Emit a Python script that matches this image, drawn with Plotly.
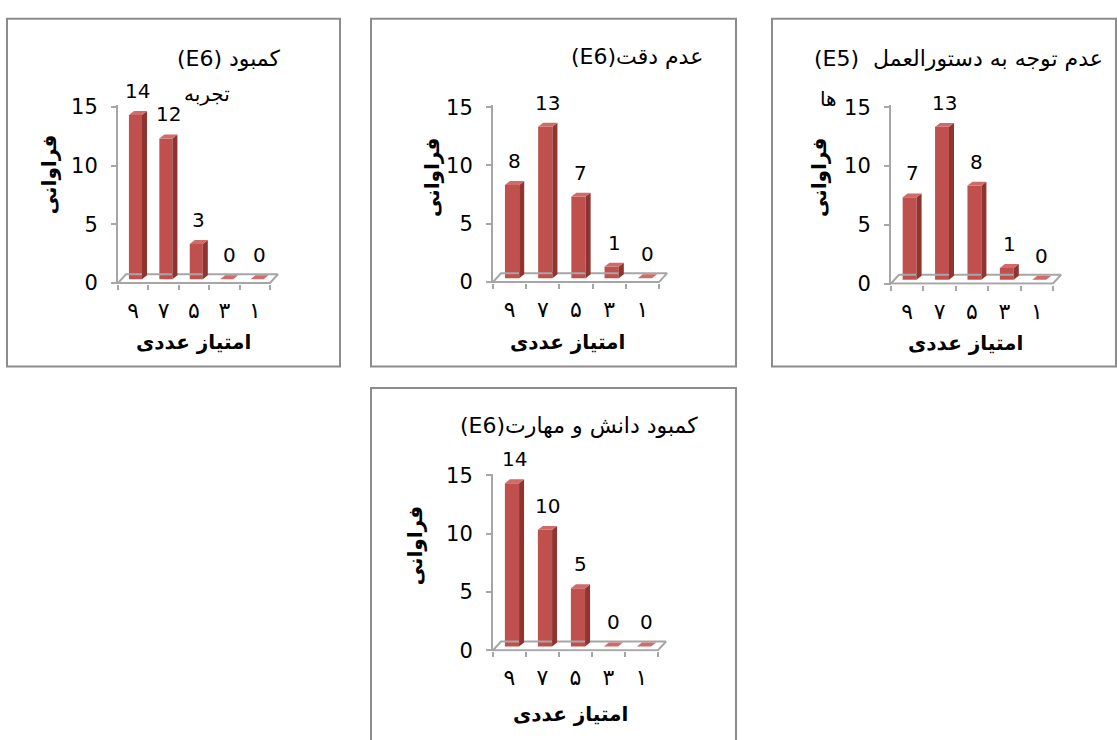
import plotly.graph_objects as go

W, H = 1117, 740

# ---------------- data ----------------
scores = ["۹", "۷", "۵", "۳", "۱"]          # numeric score categories (left to right)
vals_experience = [14, 12, 3, 0, 0]          # کمبود تجربه
vals_accuracy = [8, 13, 7, 1, 0]             # عدم دقت
vals_instructions = [7, 13, 8, 1, 0]         # عدم توجه به دستورالعمل ها
vals_knowledge = [14, 10, 5, 0, 0]           # کمبود دانش و مهارت
y_ticks = [0, 5, 10, 15]

title_experience = ["(E6) کمبود", "تجربه"]
title_accuracy = ["(E6)عدم دقت"]
title_instructions = ["(E5)  عدم توجه به دستورالعمل", "ها"]
title_knowledge = ["(E6)کمبود دانش و مهارت"]
y_title = "فراوانی"
x_title = "امتیاز عددی"

# ---------------- style ----------------
NFONT = "DejaVu Sans"
PFONT = "DejaVu Sans"
FRONT = "#C0504D"
SIDE = "#8E3431"
TOP = "#CF6B68"
GRAY = "#A6A6A6"
BORDER = "#8C8C8C"

W_BAR = 0.43     # front face width (category units)
OX = 0.075       # front face centre offset
B_UNITS = 0.33   # front face lifted above floor front edge

def px2x(px):
    return px / W

def px2y(py):
    return 1 - py / H

# panel layout in pixels
panels = [
    dict(vals=vals_experience, title=title_experience, ax0=118, cw=30.4, y0=281, upx=12.07,
         box=(7, 9, 340, 367),
         tpos=[(229, 50), (207, 86)], ypos=(49, 170), xpos=(193, 342)),
    dict(vals=vals_accuracy, title=title_accuracy, ax0=493, cw=33.2, y0=280, upx=12.0,
         box=(371, 9, 736, 367),
         tpos=[(637, 48)], ypos=(432, 173), xpos=(567, 342)),
    dict(vals=vals_instructions, title=title_instructions, ax0=891, cw=32.4, y0=281.5, upx=12.1,
         box=(772, 9, 1116, 367),
         tpos=[(958, 50), (828, 92)], ypos=(819, 173), xpos=(965, 343)),
    dict(vals=vals_knowledge, title=title_knowledge, ax0=493, cw=33.0, y0=659, upx=12.0,
         box=(371, 389, 736, 760),
         tpos=[(579, 428)], ypos=(415, 552), xpos=(570, 725)),
]

fig = go.Figure()
annotations = []
shapes = []
YMIN, YMAX = -0.1, 15.15
XMIN = -0.5

for k, p in enumerate(panels):
    sfx = "" if k == 0 else str(k + 1)
    xa, ya = "x" + sfx, "y" + sfx
    cw, upx = p["cw"], p["upx"]
    ddx = 5.0 / cw        # side depth
    ddy = 4.0 / upx       # top depth
    fdx = 8.0 / cw        # floor depth
    fdy = 9.0 / upx
    XMAX = 4.5 + fdx + 0.12
    n = len(p["vals"])

    # floor
    fig.add_trace(go.Scatter(
        x=[XMIN, n - 0.5, n - 0.5 + fdx, XMIN + fdx, XMIN],
        y=[0, 0, fdy, fdy, 0],
        mode="lines", line=dict(color=GRAY, width=2),
        xaxis=xa, yaxis=ya, showlegend=False, hoverinfo="skip"))

    # side and top faces
    sx, sy, tx, ty = [], [], [], []
    for i, v in enumerate(p["vals"]):
        x0 = i + OX - W_BAR / 2
        x1 = i + OX + W_BAR / 2
        top = B_UNITS + v
        sx += [x1, x1 + ddx, x1 + ddx, x1, x1, None]
        sy += [B_UNITS, B_UNITS + ddy, top + ddy, top, B_UNITS, None]
        tx += [x0, x1, x1 + ddx, x0 + ddx, x0, None]
        ty += [top, top, top + ddy, top + ddy, top, None]
    fig.add_trace(go.Scatter(x=sx, y=sy, fill="toself", fillcolor=SIDE, mode="lines",
                             line=dict(width=0, color=SIDE), xaxis=xa, yaxis=ya,
                             showlegend=False, hoverinfo="skip"))
    fig.add_trace(go.Scatter(x=tx, y=ty, fill="toself", fillcolor=TOP, mode="lines",
                             line=dict(width=0, color=TOP), xaxis=xa, yaxis=ya,
                             showlegend=False, hoverinfo="skip"))
    # front faces
    fig.add_trace(go.Bar(x=[i + OX for i in range(n)], y=p["vals"], base=B_UNITS,
                         width=W_BAR, marker=dict(color=FRONT, line=dict(width=0)),
                         xaxis=xa, yaxis=ya, showlegend=False))

    # data labels
    for i, v in enumerate(p["vals"]):
        annotations.append(dict(x=i + OX + ddx / 2, y=B_UNITS + v, xref=xa, yref=ya,
                                text=str(v), showarrow=False, yshift=24,
                                font=dict(family=NFONT, size=20, color="black")))

    # axes
    xdom = [px2x(p["ax0"]), px2x(p["ax0"] + (XMAX - XMIN) * cw)]
    ydom = [px2y(p["y0"] - YMIN * upx), px2y(p["y0"] - YMAX * upx)]
    fig.layout["xaxis" + sfx] = dict(
        domain=xdom, range=[XMIN, XMAX], anchor=ya,
        tickmode="array", tickvals=list(range(n)), ticktext=scores,
        ticks="", showgrid=False, zeroline=False, showline=False,
        tickfont=dict(family=PFONT, size=22, color="black"), ticklabelstandoff=11,
        minor=dict(tickmode="array", tickvals=[i - 0.5 for i in range(n + 1)],
                   ticks="outside", ticklen=5, tickcolor=GRAY, tickwidth=1.5),
        fixedrange=True)
    fig.layout["yaxis" + sfx] = dict(
        domain=ydom, range=[YMIN, YMAX], anchor=xa,
        tickmode="array", tickvals=y_ticks, ticks="outside", ticklen=5,
        tickcolor=GRAY, tickwidth=1.5, showline=True, linecolor=GRAY, linewidth=2,
        showgrid=False, zeroline=False, ticklabelstandoff=9,
        tickfont=dict(family=NFONT, size=21, color="black"), fixedrange=True)

    # titles
    for j, (txt, (tx_, ty_)) in enumerate(zip(p["title"], p["tpos"])):
        annotations.append(dict(x=px2x(tx_), y=px2y(ty_), xref="paper", yref="paper",
                                text=txt, showarrow=False, xanchor="center", yanchor="middle",
                                font=dict(family=PFONT, size=22 if j == 0 else 20,
                                          color="black")))
    annotations.append(dict(x=px2x(p["ypos"][0]), y=px2y(p["ypos"][1]), xref="paper",
                            yref="paper", text="<b>" + y_title + "</b>", textangle=-90,
                            showarrow=False, xanchor="center", yanchor="middle",
                            font=dict(family=PFONT, size=20, color="black")))
    annotations.append(dict(x=px2x(p["xpos"][0]), y=px2y(p["xpos"][1]), xref="paper",
                            yref="paper", text="<b>" + x_title + "</b>",
                            showarrow=False, xanchor="center", yanchor="middle",
                            font=dict(family=PFONT, size=20, color="black")))

    bx0, by0, bx1, by1 = p["box"]
    shapes.append(dict(type="rect", xref="paper", yref="paper",
                       x0=px2x(bx0), x1=px2x(bx1), y0=px2y(by1), y1=px2y(by0),
                       line=dict(color=BORDER, width=2), fillcolor="rgba(0,0,0,0)"))

fig.update_layout(width=W, height=H, margin=dict(l=0, r=0, t=0, b=0),
                  paper_bgcolor="white", plot_bgcolor="white",
                  annotations=annotations, shapes=shapes, showlegend=False,
                  barmode="overlay", font=dict(family=NFONT, color="black"))

fig.write_html("out.html")
